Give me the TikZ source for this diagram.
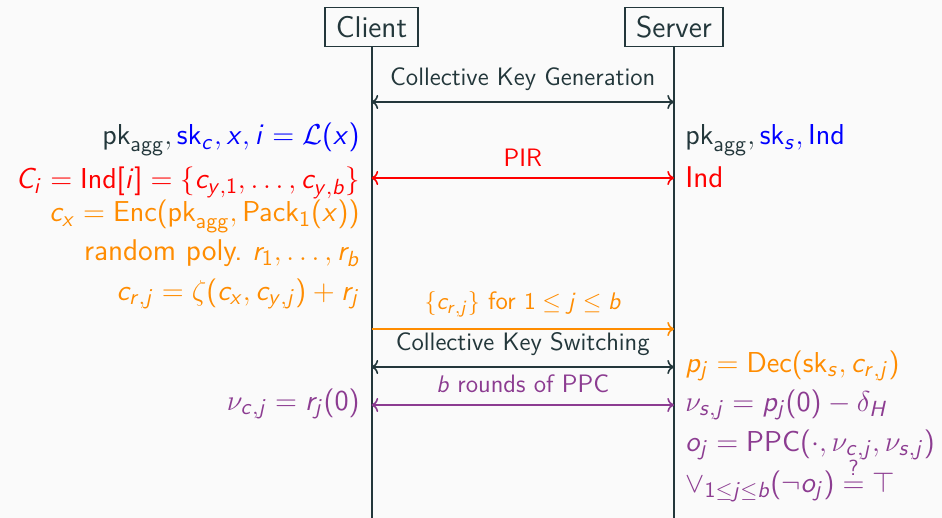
\documentclass[tikz,border=0pt]{standalone}
\usepackage{amsmath}
\usepackage{xcolor,tikz}
\usetikzlibrary{arrows.meta,positioning}
\renewcommand\familydefault{\sfdefault}
\DeclareSymbolFont{sfletters}{OT1}{cmss}{m}{sl}
\SetSymbolFont{operators}{normal}{OT1}{cmss}{m}{n}
\newcount\mletter
\mletter=97
\loop\ifnum\mletter<123
 \mathcode\mletter=\numexpr"7000+\symsfletters*256+\mletter\relax
 \advance\mletter by 1
\repeat
\mletter=65
\loop\ifnum\mletter<91
 \mathcode\mletter=\numexpr"7000+\symsfletters*256+\mletter\relax
 \advance\mletter by 1
\repeat
\definecolor{ink}{HTML}{23373B}
\definecolor{paper}{HTML}{FAFAFA}
\definecolor{ora}{HTML}{FF8C00}
\definecolor{vio}{RGB}{140,60,145}
\tikzset{>=To,
 party/.style={draw=ink,line width=0.7pt,inner xsep=5.5pt,minimum height=19.5pt},
 life/.style={draw=ink,line width=1pt},
 msg/.style={line width=0.8pt},
 lbl/.style={above,inner sep=5.5pt,font=\fontsize{12.6}{15}\selectfont},
 lt/.style={anchor=base east,inner sep=0pt},
 rt/.style={anchor=base west,inner sep=0pt}}

\begin{document}
\begin{tikzpicture}[x=0.5pt,y=-0.5pt,font=\fontsize{15}{18}\selectfont,color=ink]
\fill[paper](0,0) rectangle (942,518);
\useasboundingbox (0,0) rectangle (942,518);
\node[party](cl) at (371.5,27){Client};
\node[party](sv) at (674,27){Server};
\coordinate(clEnd) at (371.5,518);
\coordinate(svEnd) at (674,518);
\draw[life](cl)--(clEnd);
\draw[life](sv)--(svEnd);
% messages
\coordinate(kgC) at (371.5,102);\coordinate(kgS) at (674,102);
\coordinate(pirC) at (371.5,178);\coordinate(pirS) at (674,178);
\coordinate(ctC) at (371.5,329);\coordinate(ctS) at (674,329);
\coordinate(ksC) at (371.5,367);\coordinate(ksS) at (674,367);
\coordinate(ppcC) at (371.5,405);\coordinate(ppcS) at (674,405);
\draw[msg,<->](kgC)--node[lbl]{Collective Key Generation}(kgS);
\draw[msg,red,<->](pirC)--node[lbl]{PIR}(pirS);
\draw[msg,ora,->](ctC)--node[lbl]{$\{c_{r,j}\}$ for $1\le j\le b$}(ctS);
\draw[msg,<->](ksC)--node[lbl]{Collective Key Switching}(ksS);
\draw[msg,vio,<->](ppcC)--node[lbl]{$b$ rounds of PPC}(ppcS);
% client side
\node[lt](c1) at (360,145){$\mathrm{pk}_{\mathrm{agg}},\textcolor{blue}{\mathrm{sk}_c,x,i=\mathcal{L}(x)}$};
\node[lt,red](c2) at (360,189){$C_i=\mathrm{Ind}[i]=\{c_{y,1},\ldots,c_{y,b}\}$};
\node[lt,ora](c3) at (360,222){$c_x=\mathrm{Enc}(\mathrm{pk}_{\mathrm{agg}},\mathrm{Pack}_1(x))$};
\node[lt,ora](c4) at (360,261){random poly.\ $r_1,\ldots,r_b$};
\node[lt,ora](c5) at (360,300){$c_{r,j}=\zeta(c_x,c_{y,j})+r_j$};
\node[lt,vio](c6) at (360,410){$\nu_{c,j}=r_j(0)$};
% server side
\node[rt](s1) at (685,145){$\mathrm{pk}_{\mathrm{agg}},\textcolor{blue}{\mathrm{sk}_s,\mathrm{Ind}}$};
\node[rt,red](s2) at (685,188){Ind};
\node[rt,ora](s3) at (685,372){$p_j=\mathrm{Dec}(\mathrm{sk}_s,c_{r,j})$};
\node[rt,vio](s4) at (685,411){$\nu_{s,j}=p_j(0)-\delta_H$};
\node[rt,vio](s5) at (685,451){$o_j=\mathrm{PPC}(\cdot,\nu_{c,j},\nu_{s,j})$};
\node[rt,vio](s6) at (685,492){$\vee_{1\le j\le b}(\neg o_j)\stackrel{?}{=}\top$};
\end{tikzpicture}
\end{document}
